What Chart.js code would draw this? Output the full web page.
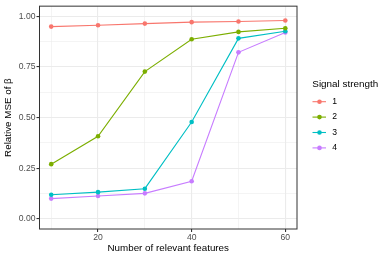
<!DOCTYPE html>
<html>
<head>
<meta charset="utf-8">
<script src="https://cdn.jsdelivr.net/npm/chart.js@4.4.1/dist/chart.umd.min.js"></script>
<style>
  html, body { margin: 0; padding: 0; background: #fff; }
  #wrap { width: 388px; height: 259px; position: relative; }
</style>
</head>
<body>
<div id="wrap"><canvas id="chart"></canvas></div>
<script>
// data
const features = [10, 20, 30, 40, 50, 60];
const strengths = ['1', '2', '3', '4'];
const mse1 = [0.949, 0.956, 0.964, 0.971, 0.974, 0.979];
const mse2 = [0.270, 0.408, 0.727, 0.887, 0.923, 0.941];
const mse3 = [0.119, 0.132, 0.149, 0.478, 0.891, 0.926];
const mse4 = [0.100, 0.113, 0.126, 0.186, 0.822, 0.920];
const colors = ['#F8766D', '#7CAE00', '#00BFC4', '#C77CFF'];

const xTicks = [10, 20, 30, 40, 50, 60];
const xLabels = [20, 40, 60];
const yTicks = [0, 0.125, 0.25, 0.375, 0.5, 0.625, 0.75, 0.875, 1];
const yLabels = [0, 0.25, 0.5, 0.75, 1];

const FONT = 'Liberation Sans, Arial, sans-serif';

const series = [mse1, mse2, mse3, mse4];
const datasets = series.map((vals, i) => ({
    label: strengths[i],
    data: features.map((f, j) => ({ x: f, y: vals[j] })),
    borderColor: colors[i],
    backgroundColor: colors[i],
    borderWidth: 1.1,
    pointRadius: 2.3,
    pointBorderWidth: 0,
    tension: 0
}));

// panel border + legend
const panelPlugin = {
    id: 'panel',
    afterDatasetsDraw(chart) {
        const { ctx, chartArea: a } = chart;
        ctx.save();
        ctx.strokeStyle = '#333333';
        ctx.lineWidth = 1;
        ctx.strokeRect(a.left, a.top, a.right - a.left, a.bottom - a.top);

        // legend
        ctx.fillStyle = '#000';
        ctx.font = '9.9px ' + FONT;
        ctx.textBaseline = 'middle';
        ctx.textAlign = 'left';
        ctx.fillText('Signal strength', 312.3, 84.7);
        chart.data.datasets.forEach((ds, i) => {
            const y = 101.7 + i * 15.4;
            ctx.strokeStyle = ds.borderColor;
            ctx.lineWidth = 1.1;
            ctx.beginPath();
            ctx.moveTo(312.5, y);
            ctx.lineTo(326, y);
            ctx.stroke();
            ctx.fillStyle = ds.borderColor;
            ctx.beginPath();
            ctx.arc(319.5, y, 2.3, 0, Math.PI * 2);
            ctx.fill();
            ctx.fillStyle = '#000';
            ctx.font = '8.6px ' + FONT;
            ctx.fillText(ds.label, 332.3, y);
        });
        ctx.restore();
    }
};

new Chart(document.getElementById('chart'), {
    type: 'line',
    data: { datasets: datasets },
    plugins: [panelPlugin],
    options: {
        responsive: true,
        maintainAspectRatio: false,
        animation: false,
        layout: { padding: { left: 0, top: 5, right: 91, bottom: 0 } },
        plugins: { legend: { display: false }, tooltip: { enabled: false } },
        scales: {
            x: {
                type: 'linear',
                min: 7.5,
                max: 62.5,
                afterBuildTicks: s => { s.ticks = xTicks.map(v => ({ value: v })); },
                afterFit: s => { s.height = 30; },
                border: { display: false },
                grid: {
                    color: '#EBEBEB',
                    lineWidth: c => xLabels.includes(c.tick.value) ? 1.1 : 0.55,
                    tickColor: c => xLabels.includes(c.tick.value) ? '#333333' : 'rgba(0,0,0,0)',
                    tickLength: 3
                },
                ticks: {
                    autoSkip: false,
                    maxRotation: 0,
                    padding: 0,
                    color: '#4D4D4D',
                    font: { family: FONT, size: 8.6 },
                    callback: v => xLabels.includes(v) ? String(v) : ''
                },
                title: {
                    display: true,
                    text: 'Number of relevant features',
                    color: '#000',
                    font: { family: FONT, size: 9.8 },
                    padding: { top: 1, bottom: 5 }
                }
            },
            y: {
                type: 'linear',
                min: -0.05,
                max: 1.05,
                afterBuildTicks: s => { s.ticks = yTicks.map(v => ({ value: v })); },
                afterFit: s => { s.width = 39.5; },
                border: { display: false },
                grid: {
                    color: '#EBEBEB',
                    lineWidth: c => yLabels.includes(c.tick.value) ? 1.1 : 0.55,
                    tickColor: c => yLabels.includes(c.tick.value) ? '#333333' : 'rgba(0,0,0,0)',
                    tickLength: 3
                },
                ticks: {
                    autoSkip: false,
                    padding: 1,
                    color: '#4D4D4D',
                    font: { family: FONT, size: 8.6 },
                    callback: v => yLabels.includes(v) ? v.toFixed(2) : ''
                },
                title: {
                    display: true,
                    text: 'Relative MSE of β',
                    color: '#000',
                    font: { family: FONT, size: 9.8 },
                    padding: { top: 2.5, bottom: 0 }
                }
            }
        }
    }
});
</script>
</body>
</html>
